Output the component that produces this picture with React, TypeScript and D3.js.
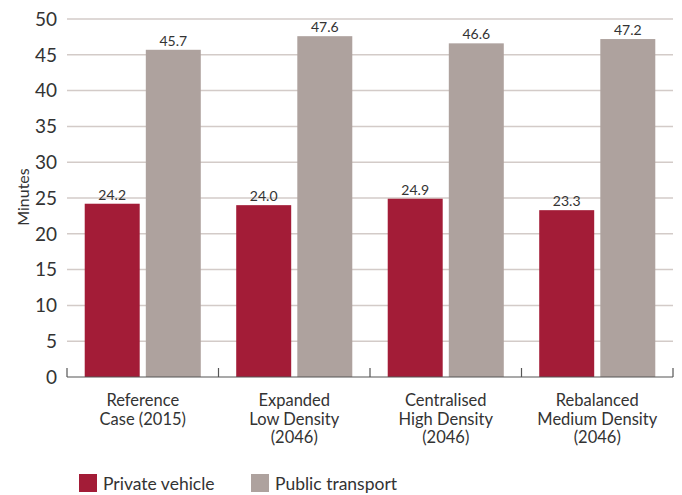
import React from "react";
import * as d3 from "d3";

const categories: string[][] = [
  ["Reference", "Case (2015)"],
  ["Expanded", "Low Density", "(2046)"],
  ["Centralised", "High Density", "(2046)"],
  ["Rebalanced", "Medium Density", "(2046)"],
];
const privateVehicle = [24.2, 24.0, 24.9, 23.3];
const publicTransport = [45.7, 47.6, 46.6, 47.2];
const yTicks = [0, 5, 10, 15, 20, 25, 30, 35, 40, 45, 50];
const seriesNames = ["Private vehicle", "Public transport"];
const colors = ["#a31c37", "#aea29e"];

const W = 682;
const H = 495;
const left = 67;
const right = 673;
const top = 19;
const bottom = 377;
const font = "Lato, 'Open Sans', sans-serif";

export default function App() {
  const x = d3
    .scaleBand<number>()
    .domain(categories.map((_, i) => i))
    .range([left, right]);
  const inner = d3
    .scaleBand<number>()
    .domain([0, 1])
    .range([0, x.bandwidth()])
    .paddingInner(0.1)
    .paddingOuter(0.29);
  const y = d3.scaleLinear().domain([0, 50]).range([bottom, top]);
  const series = [privateVehicle, publicTransport];

  return (
    <svg
      width={W}
      height={H}
      style={{ position: "absolute", left: 0, top: 0, background: "#fff" }}
      fontFamily={font}
    >
      {yTicks
        .filter((t) => t > 0)
        .map((t) => (
          <line
            key={"g" + t}
            x1={left}
            x2={right}
            y1={y(t)}
            y2={y(t)}
            stroke="#d3cbc8"
            strokeWidth={1.5}
          />
        ))}
      {yTicks.map((t) => (
        <text
          key={"t" + t}
          x={57}
          y={y(t)}
          dy="0.36em"
          textAnchor="end"
          fontSize={19}
          fill="#333"
        >
          {t}
        </text>
      ))}
      <text
        transform={`translate(29,197) rotate(-90)`}
        textAnchor="middle"
        fontSize={16}
        fill="#333"
      >
        Minutes
      </text>
      {series.map((vals, s) =>
        vals.map((v, i) => {
          const bx = (x(i) as number) + (inner(s) as number);
          return (
            <g key={`b${s}-${i}`}>
              <rect
                x={bx}
                y={y(v)}
                width={inner.bandwidth()}
                height={bottom - y(v)}
                fill={colors[s]}
              />
              <text
                x={bx + inner.bandwidth() / 2}
                y={y(v) - 4}
                textAnchor="middle"
                fontSize={14}
                fill="#333"
              >
                {v.toFixed(1)}
              </text>
            </g>
          );
        })
      )}
      <line x1={left} x2={right} y1={bottom} y2={bottom} stroke="#555" strokeWidth={1.2} />
      {d3.range(categories.length + 1).map((i) => {
        const tx = left + i * x.bandwidth();
        return (
          <line key={"tk" + i} x1={tx} x2={tx} y1={bottom - 9} y2={bottom} stroke="#555" strokeWidth={1.2} />
        );
      })}
      {categories.map((lines, i) =>
        lines.map((l, k) => (
          <text
            key={`c${i}-${k}`}
            x={(x(i) as number) + x.bandwidth() / 2}
            y={406 + k * 18.5}
            textAnchor="middle"
            fontSize={16.5}
            fill="#333"
          >
            {l}
          </text>
        ))
      )}
      {seriesNames.map((n, s) => {
        const lx = s === 0 ? 79 : 251;
        return (
          <g key={"l" + s}>
            <rect x={lx} y={474} width={18} height={18} fill={colors[s]} />
            <text x={lx + 24} y={484} dy="0.36em" fontSize={17.5} fill="#333">
              {n}
            </text>
          </g>
        );
      })}
    </svg>
  );
}
